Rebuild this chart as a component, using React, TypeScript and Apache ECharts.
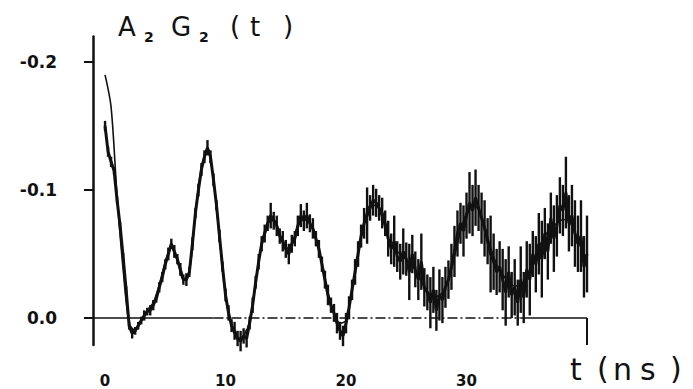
import React, { useEffect, useRef } from "react";
import * as echarts from "echarts";

// Measured data A2G2(t), sampled every 0.25 ns from t = 0
const DATA_T0 = 0;
const DATA_STEP = 0.25;
const dataValues = [
  -0.150, -0.130, -0.122, -0.115,
  -0.092, -0.072, -0.048, -0.022,
  0.006, 0.012, 0.010, 0.006,
  0.002, -0.002, -0.005, -0.006,
  -0.010, -0.015, -0.024, -0.032,
  -0.042, -0.050, -0.058, -0.052,
  -0.046, -0.038, -0.030, -0.030,
  -0.036, -0.058, -0.082, -0.100,
  -0.116, -0.126, -0.133, -0.126,
  -0.108, -0.088, -0.064, -0.040,
  -0.018, -0.004, 0.006, 0.010,
  0.016, 0.018, 0.014, 0.016,
  0.004, -0.010, -0.028, -0.044,
  -0.058, -0.066, -0.074, -0.080,
  -0.076, -0.072, -0.064, -0.060,
  -0.054, -0.050, -0.058, -0.062,
  -0.072, -0.080, -0.076, -0.080,
  -0.074, -0.070, -0.062, -0.054,
  -0.042, -0.030, -0.018, -0.010,
  -0.004, 0.004, 0.010, 0.014,
  0.004, -0.008, -0.022, -0.036,
  -0.050, -0.064, -0.074, -0.080,
  -0.086, -0.092, -0.090, -0.086,
  -0.082, -0.074, -0.062, -0.054,
  -0.060, -0.048, -0.044, -0.052,
  -0.046, -0.036, -0.050, -0.038,
  -0.030, -0.044, -0.024, -0.020,
  -0.012, -0.022, -0.006, -0.018,
  -0.014, -0.024, -0.030, -0.040,
  -0.052, -0.066, -0.074, -0.068,
  -0.080, -0.090, -0.084, -0.094,
  -0.086, -0.078, -0.070, -0.060,
  -0.050, -0.044, -0.036, -0.040,
  -0.030, -0.020, -0.036, -0.018,
  -0.024, -0.012, -0.030, -0.016,
  -0.038, -0.030, -0.050, -0.042,
  -0.058, -0.046, -0.066, -0.052,
  -0.078, -0.062, -0.072, -0.088,
  -0.084, -0.098, -0.074, -0.080,
  -0.066, -0.058, -0.064, -0.040,
  -0.050,
];

// Half-length of the error bars for each measured point
const dataErrors = [
  0.004, 0.004, 0.004, 0.003, 0.003, 0.003, 0.003, 0.003,
  0.003, 0.004, 0.003, 0.003, 0.003, 0.004, 0.003, 0.004,
  0.004, 0.003, 0.004, 0.004, 0.004, 0.005, 0.004, 0.005,
  0.004, 0.005, 0.004, 0.005, 0.004, 0.005, 0.004, 0.005,
  0.005, 0.005, 0.006, 0.005, 0.005, 0.004, 0.005, 0.004,
  0.005, 0.006, 0.005, 0.007, 0.006, 0.008, 0.006, 0.007,
  0.005, 0.006, 0.005, 0.006, 0.006, 0.007, 0.006, 0.010,
  0.007, 0.008, 0.006, 0.008, 0.007, 0.008, 0.007, 0.006,
  0.008, 0.009, 0.008, 0.010, 0.007, 0.008, 0.006, 0.007,
  0.006, 0.007, 0.008, 0.006, 0.007, 0.008, 0.007, 0.008,
  0.008, 0.009, 0.008, 0.010, 0.010, 0.009, 0.012, 0.022,
  0.010, 0.012, 0.011, 0.010, 0.012, 0.010, 0.014, 0.012,
  0.020, 0.012, 0.014, 0.018, 0.013, 0.022, 0.015, 0.014,
  0.016, 0.022, 0.015, 0.014, 0.020, 0.018, 0.016, 0.020,
  0.018, 0.016, 0.015, 0.018, 0.020, 0.018, 0.016, 0.020,
  0.018, 0.024, 0.020, 0.022, 0.018, 0.020, 0.022, 0.018,
  0.030, 0.022, 0.018, 0.020, 0.024, 0.026, 0.020, 0.018,
  0.022, 0.018, 0.026, 0.020, 0.022, 0.028, 0.018, 0.022,
  0.024, 0.030, 0.020, 0.022, 0.020, 0.026, 0.024, 0.022,
  0.020, 0.028, 0.022, 0.024, 0.026, 0.022, 0.028, 0.024,
  0.030,
];

// Fitted curve, sampled every 0.5 ns from t = 0
const FIT_T0 = 0;
const FIT_STEP = 0.5;
const fitValues = [
  -0.190, -0.165, -0.095, -0.038, 0.004, 0.010, 0.002, -0.006,
  -0.012, -0.026, -0.044, -0.055, -0.045, -0.030, -0.036, -0.082,
  -0.118, -0.132, -0.108, -0.062, -0.018, 0.006, 0.016, 0.014,
  0.002, -0.028, -0.058, -0.074, -0.077, -0.066, -0.054, -0.058,
  -0.072, -0.077, -0.074, -0.062, -0.042, -0.018, -0.004, 0.004,
  0.002, -0.022, -0.050, -0.074, -0.088, -0.088, -0.078, -0.062,
  -0.054, -0.050, -0.046, -0.041, -0.033, -0.024, -0.018, -0.017,
  -0.020, -0.030, -0.048, -0.068, -0.082, -0.088, -0.085, -0.072,
  -0.055, -0.042, -0.034, -0.028, -0.025, -0.026, -0.032, -0.044,
  -0.055, -0.064, -0.070, -0.074, -0.077, -0.076, -0.066, -0.055,
  -0.046,
];

const xTickValues = [0, 10, 20, 30];
const yTickValues = [-0.2, -0.1, 0];
const X_MIN = -1;
const X_MAX = 40;
const Y_MIN = -0.22;
const Y_MAX = 0.021;

const INK = "#111";
const FONT = "DejaVu Sans";

export default function App() {
  const ref = useRef<HTMLDivElement>(null);

  useEffect(() => {
    if (!ref.current) return;
    const chart = echarts.init(ref.current, undefined, { renderer: "svg" });

    const dataPts = dataValues.map((v, i) => [DATA_T0 + i * DATA_STEP, v, dataErrors[i]]);
    const linePts = dataValues.map((v, i) => [DATA_T0 + i * DATA_STEP, v]);
    const fitPts = fitValues.map((v, i) => [FIT_T0 + i * FIT_STEP, v]);

    const bigText = (text: string, x: number, y: number, size: number) => ({
      type: "text",
      x,
      y,
      style: { text, fill: INK, font: `${size}px "${FONT}"`, textVerticalAlign: "top" },
    });
    const subText = (text: string, x: number, y: number) => ({
      type: "text",
      x,
      y,
      style: { text, fill: INK, font: `bold 14px "${FONT}"`, textVerticalAlign: "top" },
    });

    chart.setOption({
      animation: false,
      backgroundColor: "#fff",
      grid: { left: 93, right: 106, top: 36.4, bottom: 44.1, containLabel: false },
      xAxis: {
        type: "value",
        min: X_MIN,
        max: X_MAX,
        axisLine: { show: false, onZero: false },
        axisTick: { show: false },
        splitLine: { show: false },
        axisLabel: {
          customValues: xTickValues,
          margin: 29,
          color: INK,
          fontFamily: FONT,
          fontWeight: "bold",
          fontSize: 15,
        },
      },
      yAxis: {
        type: "value",
        inverse: true,
        min: Y_MIN,
        max: Y_MAX,
        axisLine: { show: true, onZero: false, lineStyle: { color: INK, width: 2.5 } },
        axisTick: {
          show: true,
          customValues: yTickValues,
          length: 9,
          lineStyle: { color: INK, width: 2 },
        },
        splitLine: { show: false },
        axisLabel: {
          customValues: yTickValues,
          margin: 36,
          color: INK,
          fontFamily: FONT,
          fontWeight: "bold",
          fontSize: 17,
          padding: [0, 0, 8, 0],
          formatter: (v: number) => v.toFixed(1),
        },
      },
      graphic: [
        bigText("A", 118, 14, 26),
        subText("2", 144, 30),
        bigText("G", 171, 14, 26),
        subText("2", 199, 30),
        bigText("(", 230, 13, 26),
        bigText("t", 250, 14, 26),
        bigText(")", 283, 13, 26),
        bigText("t", 570, 354, 30),
        bigText("(", 597, 353, 30),
        bigText("n", 613, 354, 30),
        bigText("s", 640, 354, 30),
        bigText(")", 670, 353, 30),
      ],
      series: [
        {
          type: "custom",
          name: "errors",
          silent: true,
          clip: false,
          renderItem: (_params: any, api: any) => {
            const t = api.value(0);
            const v = api.value(1);
            const e = api.value(2);
            const p1 = api.coord([t, v - e]);
            const p2 = api.coord([t, v + e]);
            return {
              type: "line",
              shape: { x1: p1[0], y1: p1[1], x2: p2[0], y2: p2[1] },
              style: { stroke: INK, lineWidth: 2.4 },
            };
          },
          encode: { x: 0, y: [1] },
          data: dataPts,
          z: 3,
        },
        {
          type: "line",
          name: "data",
          data: linePts,
          showSymbol: false,
          silent: true,
          lineStyle: { color: INK, width: 3 },
          z: 4,
        },
        {
          type: "line",
          name: "fit",
          data: fitPts,
          smooth: 0.3,
          showSymbol: false,
          silent: true,
          lineStyle: { color: INK, width: 1.6 },
          z: 5,
          markLine: {
            silent: true,
            symbol: "none",
            label: { show: false },
            lineStyle: { color: INK, width: 1.5, type: "solid" },
            data: [
              [{ coord: [X_MIN, 0] }, { coord: [9, 0] }],
              [
                { coord: [9, 0], lineStyle: { type: [10, 3, 2, 3] } },
                { coord: [34.5, 0] },
              ],
              [{ coord: [34.5, 0] }, { coord: [X_MAX, 0] }],
              [{ coord: [X_MAX, 0], lineStyle: { width: 2 } }, { coord: [X_MAX, Y_MAX] }],
            ],
          },
        },
      ],
    });

    return () => chart.dispose();
  }, []);

  return (
    <div
      ref={ref}
      style={{ position: "fixed", left: 0, top: 0, width: 693, height: 389, background: "#fff" }}
    />
  );
}
